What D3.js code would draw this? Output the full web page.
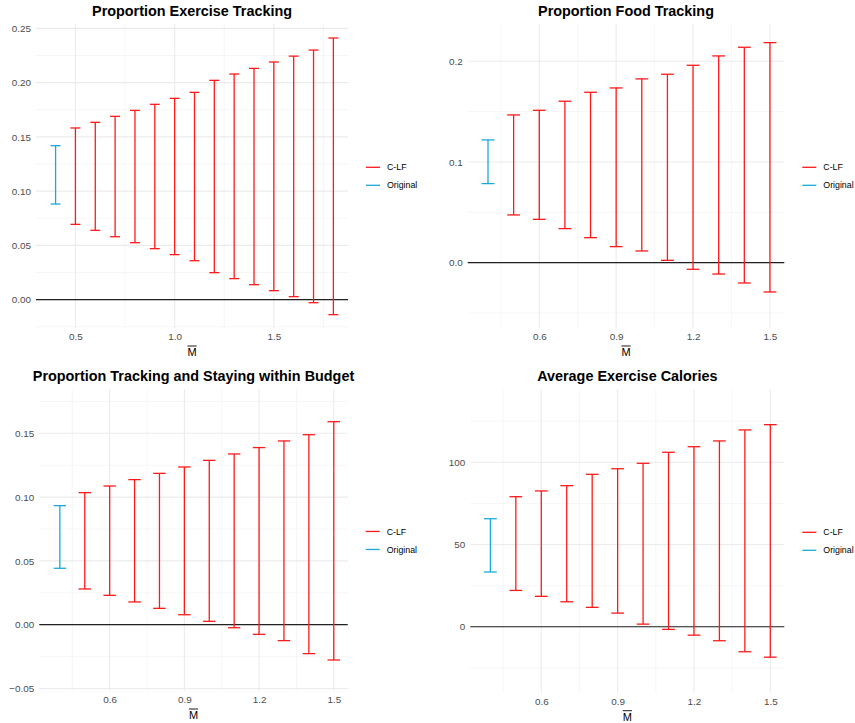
<!DOCTYPE html>
<html>
<head>
<meta charset="utf-8">
<script src="https://cdn.jsdelivr.net/npm/d3@7"></script>
<style>
  html, body { margin: 0; padding: 0; background: #ffffff; }
  svg { display: block; font-family: "Liberation Sans", Arial, Helvetica, sans-serif; }
</style>
</head>
<body>
<svg id="chart" width="855" height="723"></svg>
<script>
// ---- data ----------------------------------------------------------------
const seriesNames = ["C-LF", "Original"];
const seriesColors = ["#ff1a1a", "#1ca9d9"];
const originalX = 0.4;

// Proportion Exercise Tracking
const exerciseX     = [0.5, 0.6, 0.7, 0.8, 0.9, 1.0, 1.1, 1.2, 1.3, 1.4, 1.5, 1.6, 1.7, 1.8];
const exerciseLower = [0.0694, 0.0639, 0.0580, 0.0525, 0.0470, 0.0415, 0.0359, 0.0249, 0.0194, 0.0138, 0.0083, 0.0028, -0.0028, -0.0138];
const exerciseUpper = [0.1582, 0.1634, 0.1689, 0.1744, 0.1800, 0.1855, 0.1910, 0.2021, 0.2079, 0.2131, 0.2190, 0.2244, 0.2300, 0.2411];
const exerciseOriginal = [0.0881, 0.1419];

// Proportion Food Tracking
const foodX     = [0.5, 0.6, 0.7, 0.8, 0.9, 1.0, 1.1, 1.2, 1.3, 1.4, 1.5];
const foodLower = [0.0474, 0.0430, 0.0338, 0.0248, 0.0159, 0.0116, 0.0023, -0.0066, -0.0113, -0.0202, -0.0291];
const foodUpper = [0.1467, 0.1513, 0.1603, 0.1692, 0.1735, 0.1825, 0.1871, 0.1960, 0.2053, 0.2139, 0.2185];
const foodOriginal = [0.0785, 0.1219];

// Proportion Tracking and Staying within Budget
const budgetX     = [0.5, 0.6, 0.7, 0.8, 0.9, 1.0, 1.1, 1.2, 1.3, 1.4, 1.5];
const budgetLower = [0.0280, 0.0230, 0.0178, 0.0128, 0.0078, 0.0026, -0.0024, -0.0076, -0.0125, -0.0227, -0.0277];
const budgetUpper = [0.1035, 0.1087, 0.1137, 0.1186, 0.1236, 0.1288, 0.1338, 0.1388, 0.1440, 0.1489, 0.1591];
const budgetOriginal = [0.0442, 0.0933];

// Average Exercise Calories
const caloriesX     = [0.5, 0.6, 0.7, 0.8, 0.9, 1.0, 1.1, 1.2, 1.3, 1.4, 1.5];
const caloriesLower = [22.1, 18.5, 15.2, 11.8, 8.3, 1.6, -1.6, -5.1, -8.5, -15.2, -18.5];
const caloriesUpper = [79.1, 82.6, 85.8, 92.7, 96.1, 99.4, 106.1, 109.5, 113.0, 119.7, 122.9];
const caloriesOriginal = [33.3, 65.7];

// tick labels
const exerciseXTicks = [0.5, 1.0, 1.5];
const exerciseYTicks = [0.00, 0.05, 0.10, 0.15, 0.20, 0.25];
const shortXTicks    = [0.6, 0.9, 1.2, 1.5];
const foodYTicks     = [0.0, 0.1, 0.2];
const budgetYTicks   = [-0.05, 0.00, 0.05, 0.10, 0.15];
const caloriesYTicks = [0, 50, 100];

// ---- panels ----------------------------------------------------------------
const panels = [
  {
    title: "Proportion Exercise Tracking",
    box: { left: 36, right: 348, top: 24, bottom: 328 },
    xDomain: [0.3013, 1.8737], yDomain: [-0.0261, 0.254],
    xTicks: exerciseXTicks, xFmt: d3.format(".1f"), xStep: 0.5,
    yTicks: exerciseYTicks, yFmt: d3.format(".2f"), yStep: 0.05,
    x: exerciseX, lo: exerciseLower, hi: exerciseUpper, orig: exerciseOriginal
  },
  {
    title: "Proportion Food Tracking",
    box: { left: 467.7, right: 784.3, top: 24, bottom: 328 },
    xDomain: [0.3208, 1.556], yDomain: [-0.0649, 0.237],
    xTicks: shortXTicks, xFmt: d3.format(".1f"), xStep: 0.3,
    yTicks: foodYTicks, yFmt: d3.format(".1f"), yStep: 0.1,
    x: foodX, lo: foodLower, hi: foodUpper, orig: foodOriginal
  },
  {
    title: "Proportion Tracking and Staying within Budget",
    box: { left: 39.3, right: 347.7, top: 389.3, bottom: 691 },
    xDomain: [0.3174, 1.556], yDomain: [-0.052, 0.1845],
    xTicks: shortXTicks, xFmt: d3.format(".1f"), xStep: 0.3,
    yTicks: budgetYTicks, yFmt: d3.format(".2f"), yStep: 0.05,
    x: budgetX, lo: budgetLower, hi: budgetUpper, orig: budgetOriginal
  },
  {
    title: "Average Exercise Calories",
    box: { left: 470.3, right: 784.3, top: 389.3, bottom: 692.7 },
    xDomain: [0.321, 1.555], yDomain: [-40.1, 144.4],
    xTicks: shortXTicks, xFmt: d3.format(".1f"), xStep: 0.3,
    yTicks: caloriesYTicks, yFmt: d3.format("d"), yStep: 50,
    x: caloriesX, lo: caloriesLower, hi: caloriesUpper, orig: caloriesOriginal
  }
];

const svg = d3.select("#chart");
const capWidth = 0.05;      // error bar cap width in x units
const tickColor = "#4d4d4d";

// minor gridlines sit halfway between major breaks, across the full panel
function minorBreaks(ticks, step, domain) {
  const out = [];
  const first = ticks[0] - step / 2;
  for (let i = -2; i <= ticks.length + 2; i++) {
    const v = +(first + i * step).toFixed(6);
    if (v > domain[0] && v < domain[1]) out.push(v);
  }
  return out;
}

panels.forEach(p => {
  const b = p.box;
  const x = d3.scaleLinear().domain(p.xDomain).range([b.left, b.right]);
  const y = d3.scaleLinear().domain(p.yDomain).range([b.bottom, b.top]);
  const g = svg.append("g");

  // grid
  const grid = g.append("g");
  minorBreaks(p.yTicks, p.yStep, p.yDomain).forEach(v => {
    grid.append("line").attr("x1", b.left).attr("x2", b.right)
      .attr("y1", y(v)).attr("y2", y(v))
      .attr("stroke", "#f2f2f2").attr("stroke-width", 0.7);
  });
  minorBreaks(p.xTicks, p.xStep, p.xDomain).forEach(v => {
    grid.append("line").attr("y1", b.top).attr("y2", b.bottom)
      .attr("x1", x(v)).attr("x2", x(v))
      .attr("stroke", "#f2f2f2").attr("stroke-width", 0.7);
  });
  p.yTicks.forEach(v => {
    grid.append("line").attr("x1", b.left).attr("x2", b.right)
      .attr("y1", y(v)).attr("y2", y(v))
      .attr("stroke", "#ebebeb").attr("stroke-width", 1.1);
  });
  p.xTicks.forEach(v => {
    grid.append("line").attr("y1", b.top).attr("y2", b.bottom)
      .attr("x1", x(v)).attr("x2", x(v))
      .attr("stroke", "#ebebeb").attr("stroke-width", 1.1);
  });

  // axes (labels only, as in a minimal theme)
  const yAxis = g.append("g").attr("transform", `translate(${b.left},0)`)
    .call(d3.axisLeft(y).tickValues(p.yTicks).tickFormat(p.yFmt).tickSize(0).tickPadding(5));
  const xAxis = g.append("g").attr("transform", `translate(0,${b.bottom})`)
    .call(d3.axisBottom(x).tickValues(p.xTicks).tickFormat(p.xFmt).tickSize(0).tickPadding(5));
  [yAxis, xAxis].forEach(a => {
    a.select(".domain").remove();
    a.selectAll("text").attr("fill", tickColor)
      .style("font-size", "9.9px").style("font-family", "'Liberation Sans', Arial, sans-serif");
  });

  // zero reference line
  g.append("line").attr("x1", b.left).attr("x2", b.right)
    .attr("y1", y(0)).attr("y2", y(0))
    .attr("stroke", "#222222").attr("stroke-width", 1.2);

  // error bars
  const bars = p.x.map((xv, i) => ({ x: xv, lo: p.lo[i], hi: p.hi[i], s: 0 }));
  bars.unshift({ x: originalX, lo: p.orig[0], hi: p.orig[1], s: 1 });
  const eb = g.append("g").selectAll("g").data(bars).join("g")
    .attr("stroke", d => seriesColors[d.s]).attr("stroke-width", 1.3).attr("fill", "none");
  eb.append("line").attr("x1", d => x(d.x)).attr("x2", d => x(d.x))
    .attr("y1", d => y(d.lo)).attr("y2", d => y(d.hi));
  eb.append("line").attr("x1", d => x(d.x - capWidth / 2)).attr("x2", d => x(d.x + capWidth / 2))
    .attr("y1", d => y(d.hi)).attr("y2", d => y(d.hi));
  eb.append("line").attr("x1", d => x(d.x - capWidth / 2)).attr("x2", d => x(d.x + capWidth / 2))
    .attr("y1", d => y(d.lo)).attr("y2", d => y(d.lo));

  // title
  g.append("text").attr("x", (b.left + b.right) / 2).attr("y", b.top - 8.2)
    .attr("text-anchor", "middle").attr("font-weight", "bold")
    .attr("font-size", "14.4px").attr("fill", "#000").text(p.title);

  // x axis title: M with an overbar
  const cx = (b.left + b.right) / 2;
  const mBase = b.bottom + 28.2;
  g.append("text").attr("x", cx).attr("y", mBase)
    .attr("text-anchor", "middle").attr("font-size", "11px").attr("fill", "#000").text("M");
  g.append("line").attr("x1", cx - 4.6).attr("x2", cx + 4.6)
    .attr("y1", mBase - 10.2).attr("y2", mBase - 10.2)
    .attr("stroke", "#000").attr("stroke-width", 0.9);

  // legend
  const lgX = b.right + 18;
  const lgY = (b.top + b.bottom) / 2 - 8.7;
  seriesNames.forEach((name, i) => {
    const yy = lgY + i * 18;
    g.append("line").attr("x1", lgX).attr("x2", lgX + 14)
      .attr("y1", yy).attr("y2", yy)
      .attr("stroke", seriesColors[i]).attr("stroke-width", 1.3);
    g.append("text").attr("x", lgX + 21).attr("y", yy).attr("dy", "0.35em")
      .attr("font-size", "8.8px").attr("fill", "#000").text(name);
  });
});
</script>
</body>
</html>
